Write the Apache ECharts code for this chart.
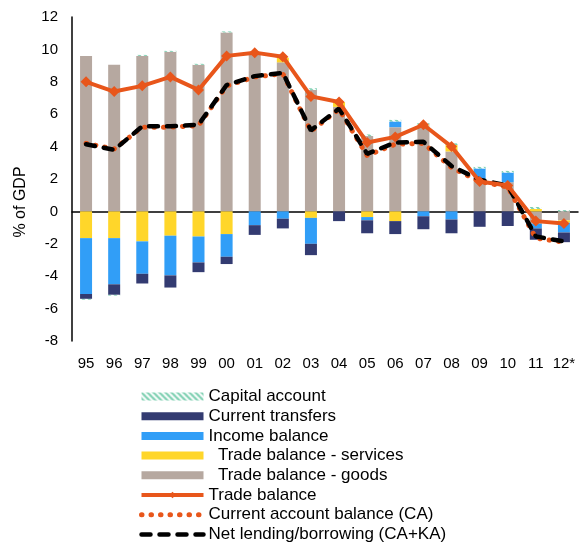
<!DOCTYPE html>
<html>
<head>
<meta charset="utf-8">
<script src="https://cdn.jsdelivr.net/npm/echarts@6/dist/echarts.min.js"></script>
<style>
  html, body { margin: 0; padding: 0; background: #fff; }
  #chart { width: 579px; height: 552px; }
</style>
</head>
<body>
<div id="chart"></div>
<script>
var years = ["95", "96", "97", "98", "99", "00", "01", "02", "03", "04", "05", "06", "07", "08", "09", "10", "11", "12*"];
var yTicks = [-8, -6, -4, -2, 0, 2, 4, 6, 8, 10, 12];

// % of GDP
var goods = [9.6, 9.05, 9.6, 9.85, 9.05, 11.05, 9.75, 9.2, 7.5, 6.45, 4.65, 5.2, 5.3, 3.7, 2.0, 1.8, -0.75, -0.55];
var services = [-1.65, -1.65, -1.85, -1.5, -1.55, -1.4, 0, 0.3, -0.4, 0.3, -0.35, -0.6, 0.05, 0.4, 0, 0, 0.15, -0.15];
var income = [-3.45, -2.85, -2.0, -2.45, -1.6, -1.4, -0.85, -0.45, -1.6, 0, -0.2, 0.35, -0.3, -0.5, 0.65, 0.6, -0.3, -0.6];
var transfers = [-0.3, -0.65, -0.6, -0.75, -0.6, -0.45, -0.6, -0.6, -0.7, -0.6, -0.8, -0.8, -0.8, -0.85, -0.95, -0.9, -0.7, -0.6];
var capital = [-0.05, -0.05, 0.06, 0.06, 0.06, 0.06, 0.05, 0.05, 0.1, 0.1, 0.1, 0.1, 0.1, 0.1, 0.1, 0.1, 0.12, 0.08];
var tradeBalance = [8.0, 7.4, 7.75, 8.3, 7.5, 9.6, 9.8, 9.55, 7.1, 6.75, 4.25, 4.6, 5.35, 4.0, 1.85, 1.6, -0.6, -0.75];
var caBalance = [4.2, 3.85, 5.2, 5.2, 5.3, 7.75, 8.3, 8.5, 4.95, 6.3, 3.45, 4.15, 4.2, 2.7, 1.85, 1.5, -1.65, -1.9];
var netLending = [4.15, 3.8, 5.25, 5.25, 5.35, 7.8, 8.35, 8.55, 5.0, 6.35, 3.55, 4.25, 4.3, 2.8, 1.95, 1.6, -1.55, -1.85];

// striped fill for capital account
function stripes() {
  var c = document.createElement("canvas");
  c.width = 6;
  c.height = 6;
  var ctx = c.getContext("2d");
  ctx.fillStyle = "#ffffff";
  ctx.fillRect(0, 0, 6, 6);
  ctx.strokeStyle = "#7ccfb0";
  ctx.lineWidth = 2.2;
  ctx.beginPath();
  ctx.moveTo(-3, -3); ctx.lineTo(9, 9);
  ctx.moveTo(-3, 3); ctx.lineTo(3, 9);
  ctx.moveTo(3, -3); ctx.lineTo(9, 3);
  ctx.stroke();
  return { image: c, repeat: "repeat" };
}

var font = "'Liberation Sans', Arial, sans-serif";
var orange = "#e8561b";
var dom = document.getElementById("chart");
var chart = echarts.init(dom);

function bar(name, data, color) {
  return {
    name: name,
    type: "bar",
    stack: "ca",
    barWidth: 12,
    data: data,
    itemStyle: { color: color }
  };
}

var option = {
  animation: false,
  textStyle: { fontFamily: font },
  grid: { left: 72, right: 1, top: 17, bottom: 211 },
  legend: {
    orient: "vertical",
    left: 139,
    top: 388,
    padding: 0,
    itemWidth: 62,
    itemHeight: 8,
    itemGap: 2.7,
    textStyle: { fontSize: 17, color: "#000", lineHeight: 17 },
    data: [
      { name: "Capital account", icon: "rect" },
      { name: "Current transfers", icon: "rect" },
      { name: "Income balance", icon: "rect" },
      { name: "  Trade balance - services", icon: "rect" },
      { name: "  Trade balance - goods", icon: "rect" },
      { name: "Trade balance", lineStyle: { width: 4 } },
      { name: "Current account balance (CA)", lineStyle: { width: 5 }, itemStyle: { opacity: 0 } },
      { name: "Net lending/borrowing (CA+KA)", lineStyle: { width: 4.5 }, itemStyle: { opacity: 0 } }
    ]
  },
  graphic: [
    {
      type: "text",
      x: 21,
      y: 202,
      rotation: Math.PI / 2,
      style: {
        text: "% of GDP",
        font: "16px " + font,
        fill: "#000",
        align: "center",
        verticalAlign: "middle"
      }
    }
  ],
  xAxis: [
    {
      type: "category",
      data: years,
      position: "bottom",
      axisLine: { show: false, onZero: false },
      axisTick: { show: false },
      axisLabel: { fontSize: 15, color: "#000", margin: 15, interval: 0 }
    },
    {
      type: "category",
      data: years,
      position: "bottom",
      axisLine: { show: true, onZero: true, lineStyle: { color: "#000", width: 1.5 } },
      axisTick: { show: false },
      axisLabel: { show: false }
    }
  ],
  yAxis: {
    type: "value",
    min: yTicks[0],
    max: yTicks[yTicks.length - 1],
    interval: 2,
    axisLine: { show: true, lineStyle: { color: "#000", width: 1.5 } },
    axisTick: { show: false },
    splitLine: { show: false },
    axisLabel: { fontSize: 15, color: "#000", margin: 14 }
  },
  series: [
    bar("  Trade balance - goods", goods, "#b6a8a0"),
    bar("  Trade balance - services", services, "#ffd62a"),
    bar("Income balance", income, "#319ef7"),
    bar("Current transfers", transfers, "#333b71"),
    bar("Capital account", capital, stripes()),
    {
      name: "Current account balance (CA)",
      type: "line",
      data: caBalance,
      symbol: "none",
      lineStyle: { color: orange, width: 5, type: [0.5, 9], cap: "round" },
      itemStyle: { color: orange },
      z: 3
    },
    {
      name: "Net lending/borrowing (CA+KA)",
      type: "line",
      data: netLending,
      symbol: "none",
      lineStyle: { color: "#000", width: 4.5, type: [9, 9], cap: "round" },
      itemStyle: { color: "#000" },
      z: 4
    },
    {
      name: "Trade balance",
      type: "line",
      data: tradeBalance,
      symbol: "diamond",
      symbolSize: 11,
      lineStyle: { color: orange, width: 4 },
      itemStyle: { color: orange },
      z: 5
    }
  ]
};

chart.setOption(option, true);
window.addEventListener("resize", function () {
  chart.resize();
});
</script>
</body>
</html>
